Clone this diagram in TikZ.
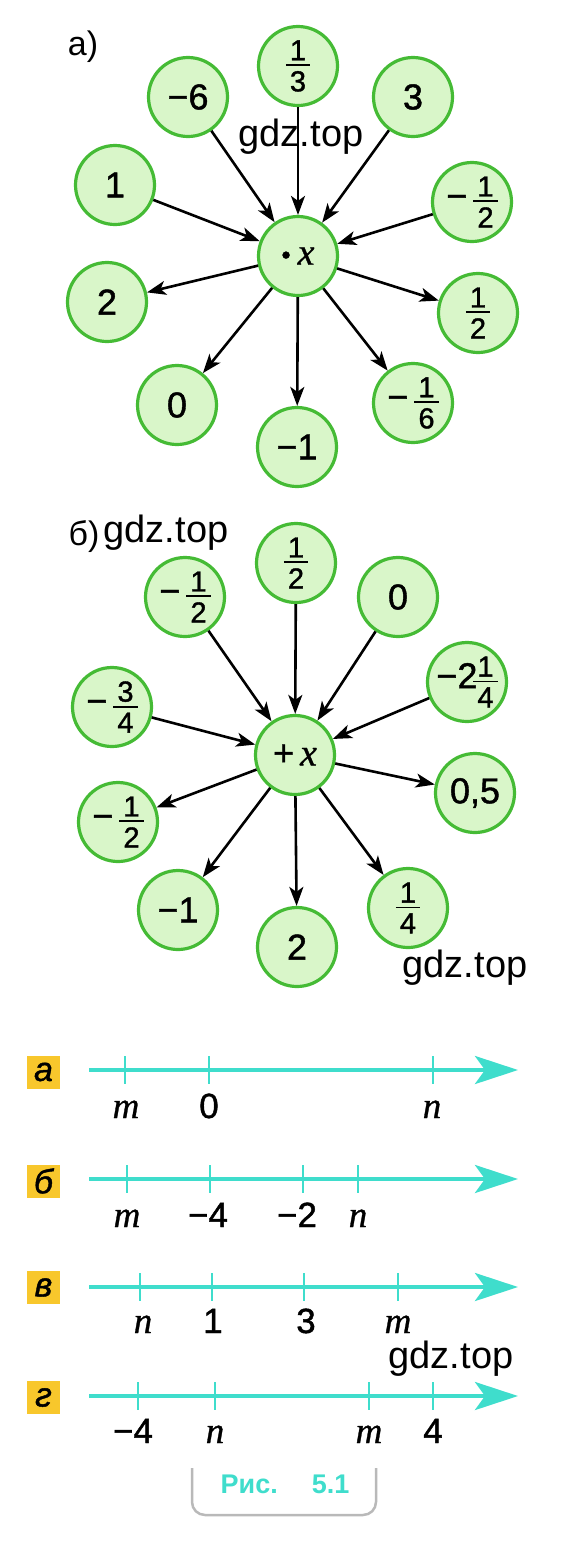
\documentclass[tikz,border=0pt]{standalone}
\usepackage{amsmath}
\usepackage{fontspec}
\setmainfont{Liberation Sans}
\newfontfamily\tnr{Liberation Serif}[FakeBold=0.8]
\newfontfamily\heavy{Liberation Sans}[FakeBold=1.2]
\usetikzlibrary{arrows.meta}
\definecolor{ringgreen}{HTML}{45BB35}
\definecolor{fillgreen}{HTML}{D9F6C9}
\definecolor{axisblue}{HTML}{3FDDCC}
\definecolor{tagyellow}{HTML}{F8C72C}
\newcommand{\fs}[1]{\fontsize{#1}{#1}\selectfont}
\newcommand{\vx}[1]{{\tnr\itshape #1}}
\newcommand{\fr}[2]{\ensuremath{\vcenter{\offinterlineskip\halign{\hfil\kern4pt##\kern4pt\hfil\cr\fs{29}#1\cr\noalign{\kern4pt\hrule height1.8pt\kern5pt}\fs{29}#2\cr}}}}

\begin{document}
\begin{tikzpicture}[x=1pt,y=-1pt,
  circ/.style={circle,draw=ringgreen,fill=fillgreen,line width=3.2pt,minimum size=79pt,inner sep=-4pt,font=\heavy\fs{36}},
  arr/.style={line width=2.6pt,-{Stealth[length=19pt,width=14pt,inset=5pt]}},
  wm/.style={font=\fs{38}},
  axis/.style={axisblue,line width=4pt,-{Stealth[length=43pt,width=28pt,inset=10pt]}},
  tick/.style={axisblue,line width=2pt},
  tag/.style={fill=tagyellow,minimum size=33pt,inner sep=0pt,font=\heavy\fs{34}\itshape},
  lbl/.style={anchor=base,font=\heavy\fs{35}}]
\useasboundingbox (0,0) rectangle (571,1548);

% a)
\node[font=\fs{34}] (ha) at (83,47) {а)};
\node[circ] (pc) at (298,256) {\raisebox{1pt}{\fs{26}•}\hspace{7pt}\vx{\fs{38}x}};
\node[circ] (p-third) at (298,66) {\fr{1}{3}};
\node[circ] (p-m6) at (188,97) {−6};
\node[circ] (p-3) at (413,97) {3};
\node[circ] (p-1) at (115,185) {1};
\node[circ] (p-mhalf) at (472,202) {−\,\fr{1}{2}};
\node[circ] (p-2) at (107,302) {2};
\node[circ] (p-half) at (478,313) {\fr{1}{2}};
\node[circ] (p-0) at (177,405) {0};
\node[circ] (p-m1) at (297,447) {−1};
\node[circ] (p-msixth) at (413,403) {−\,\fr{1}{6}};

\draw[arr] (p-third) -- (pc);
\draw[arr] (p-m6) -- (pc);
\draw[arr] (p-3) -- (pc);
\draw[arr] (p-1) -- (pc);
\draw[arr] (p-mhalf) -- (pc);
\draw[arr] (pc) -- (p-2);
\draw[arr] (pc) -- (p-half);
\draw[arr] (pc) -- (p-0);
\draw[arr] (pc) -- (p-m1);
\draw[arr] (pc) -- (p-msixth);
\node[wm] (wm1) at (301,137) {gdz.top};

% b)
\node[font=\fs{34}] (hb) at (84,537) {б)};
\node[wm] (wm2) at (166,533) {gdz.top};
\node[circ] (sc) at (295,755) {+\hspace{6pt}\vx{\fs{38}x}};
\node[circ] (s-half) at (296,563) {\fr{1}{2}};
\node[circ] (s-mhalf) at (185,597) {−\,\fr{1}{2}};
\node[circ] (s-0) at (398,597) {0};
\node[circ] (s-mthreeq) at (112,707) {−\,\fr{3}{4}};
\node[circ] (s-mtwoq) at (467,682) {−2\hspace{-4pt}\fr{1}{4}};
\node[circ] (s-mhalfb) at (118,822) {−\,\fr{1}{2}};
\node[circ] (s-pt5) at (475,793) {0,5};
\node[circ] (s-m1) at (178,910) {−1};
\node[circ] (s-2) at (297,947) {2};
\node[circ] (s-quarter) at (408,908) {\fr{1}{4}};

\draw[arr] (s-half) -- (sc);
\draw[arr] (s-mhalf) -- (sc);
\draw[arr] (s-0) -- (sc);
\draw[arr] (s-mthreeq) -- (sc);
\draw[arr] (s-mtwoq) -- (sc);
\draw[arr] (sc) -- (s-mhalfb);
\draw[arr] (sc) -- (s-pt5);
\draw[arr] (sc) -- (s-m1);
\draw[arr] (sc) -- (s-2);
\draw[arr] (sc) -- (s-quarter);
\node[wm] (wm3) at (465,968) {gdz.top};

% number lines
\node[tag] (ta) at (43.5,1072) {а};
\draw[axis] (89,1070) -- (518,1070);
\draw[tick] (125,1056) -- (125,1084);
\draw[tick] (209,1056) -- (209,1084);
\draw[tick] (433,1056) -- (433,1084);
\node[lbl] (a-m) at (126,1118) {\vx{\fs{37}m}};
\node[lbl] (a-0) at (209,1118) {0};
\node[lbl] (a-n) at (432,1118) {\vx{\fs{37}n}};

\node[tag] (tb) at (43.5,1181) {б};
\draw[axis] (89,1179) -- (518,1179);
\draw[tick] (127,1165) -- (127,1193);
\draw[tick] (210,1165) -- (210,1193);
\draw[tick] (303,1165) -- (303,1193);
\draw[tick] (358,1165) -- (358,1193);
\node[lbl] (b-m) at (127,1227) {\vx{\fs{37}m}};
\node[lbl] (b-m4) at (208,1227) {−4};
\node[lbl] (b-m2) at (297,1227) {−2};
\node[lbl] (b-n) at (358,1227) {\vx{\fs{37}n}};

\node[tag] (tc) at (43.5,1287.5) {в};
\draw[axis] (89,1287) -- (518,1287);
\draw[tick] (140,1273) -- (140,1301);
\draw[tick] (212,1273) -- (212,1301);
\draw[tick] (304,1273) -- (304,1301);
\draw[tick] (398,1273) -- (398,1301);
\node[lbl] (c-n) at (143,1333) {\vx{\fs{37}n}};
\node[lbl] (c-1) at (213,1333) {1};
\node[lbl] (c-3) at (306,1333) {3};
\node[lbl] (c-m) at (398,1333) {\vx{\fs{37}m}};
\node[wm] (wm4) at (451,1359) {gdz.top};

\node[tag] (td) at (43.5,1397.5) {г};
\draw[axis] (89,1396) -- (518,1396);
\draw[tick] (138,1382) -- (138,1410);
\draw[tick] (215,1382) -- (215,1410);
\draw[tick] (369,1382) -- (369,1410);
\draw[tick] (433,1382) -- (433,1410);
\node[lbl] (d-m4) at (133,1443) {−4};
\node[lbl] (d-n) at (215,1443) {\vx{\fs{37}n}};
\node[lbl] (d-m) at (369,1443) {\vx{\fs{37}m}};
\node[lbl] (d-4) at (433,1443) {4};

% caption
\draw[gray!55,line width=2.5pt,rounded corners=13pt] (192,1468) -- (192,1515) -- (376,1515) -- (376,1468);
\node[anchor=base,text=axisblue,font=\fs{27}\bfseries] (cap) at (285,1493) {Рис.\hspace{34pt}5.1};
\end{tikzpicture}
\end{document}
